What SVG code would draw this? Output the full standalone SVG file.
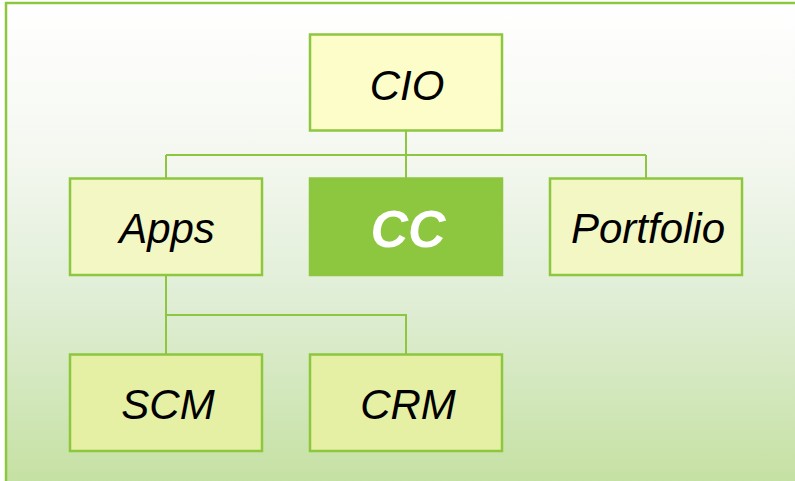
<svg xmlns="http://www.w3.org/2000/svg" width="795" height="481" viewBox="0 0 795 481">
  <defs>
    <linearGradient id="bg" x1="0" y1="0" x2="0" y2="1">
      <stop offset="0" stop-color="#ffffff"/>
      <stop offset="0.3" stop-color="#f5f8f1"/>
      <stop offset="0.6" stop-color="#e0eed6"/>
      <stop offset="1" stop-color="#c4e0a0"/>
    </linearGradient>
    <style>
      .box { stroke: #8dc63f; stroke-width: 2.5; }
      .top { fill: #fdfdca; }
      .mid { fill: #f3f7c3; }
      .low { fill: #e5f0a4; }
      .sel { fill: #8dc63f; stroke: #8dc63f; }
      .lbl { font-family: "Liberation Sans", Arial, sans-serif; font-style: italic; font-size: 42px; fill: #000; text-anchor: middle; }
      .lbl-sel { font-family: "Liberation Sans", Arial, sans-serif; font-style: italic; font-weight: bold; font-size: 52px; fill: #fff; text-anchor: middle; }
      .link { fill: none; stroke: #8dc63f; stroke-width: 2; }
    </style>
  </defs>

  <!-- page frame with soft green wash -->
  <rect x="0" y="0" width="795" height="481" fill="#ffffff"/>
  <rect x="6" y="3" width="800" height="490" fill="url(#bg)" stroke="#8dc63f" stroke-width="2.5"/>

  <!-- connectors -->
  <g id="connectors">
    <path class="link" d="M406 131 V155 M166 155 H646 M166 155 V178 M406 155 V178 M646 155 V178"/>
    <path class="link" d="M166 275 V315 H406 V354 M166 315 V354"/>
  </g>

  <g id="node-cio">
    <rect class="box top" x="310" y="34.5" width="192" height="96"/>
    <text class="lbl" x="407" y="100">CIO</text>
  </g>
  <g id="node-apps">
    <rect class="box mid" x="70" y="178.5" width="192" height="96.5"/>
    <text class="lbl" x="167" y="243">Apps</text>
  </g>
  <g id="node-cc">
    <rect class="box sel" x="310" y="178.5" width="192" height="96.5"/>
    <text class="lbl-sel" x="408" y="247">CC</text>
  </g>
  <g id="node-portfolio">
    <rect class="box mid" x="550" y="178.5" width="192" height="96.5"/>
    <text class="lbl" x="648" y="243">Portfolio</text>
  </g>
  <g id="node-scm">
    <rect class="box low" x="70" y="354.5" width="192" height="96.5"/>
    <text class="lbl" x="168" y="419">SCM</text>
  </g>
  <g id="node-crm">
    <rect class="box low" x="310" y="354.5" width="192" height="96.5"/>
    <text class="lbl" x="408" y="419">CRM</text>
  </g>
</svg>
